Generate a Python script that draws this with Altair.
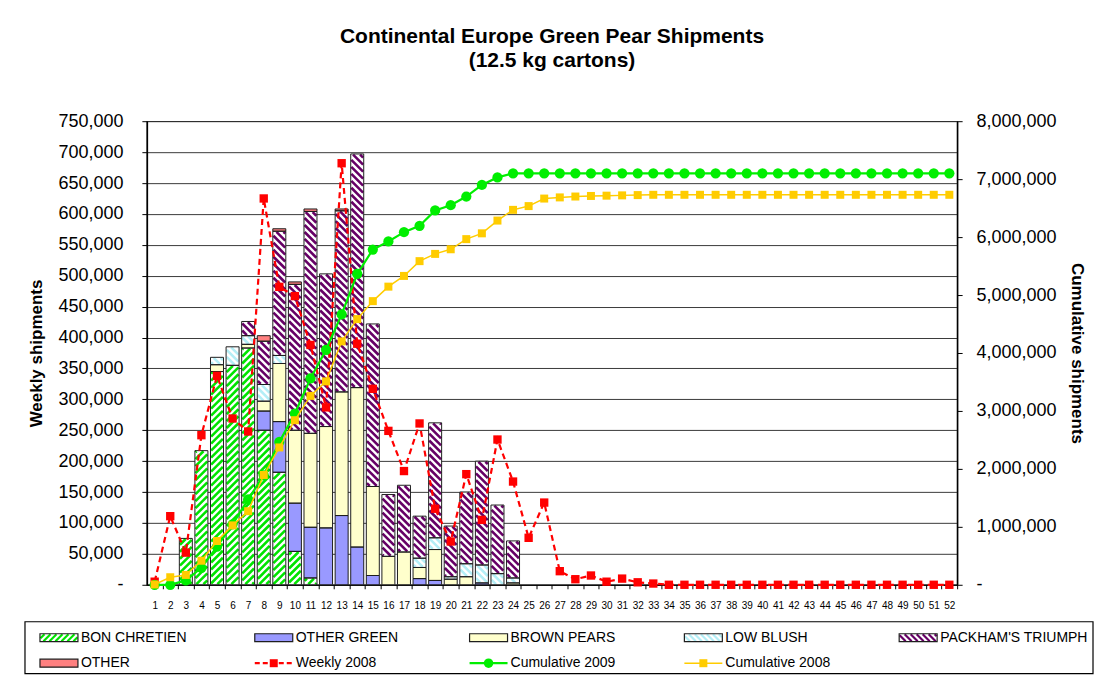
import math
import altair as alt
import pandas as pd

# ---------------- data ----------------
weeks = list(range(1, 53))

bon_chretien = [
    0, 0, 75000, 217000, 345000, 355000, 383000, 250000, 182000, 54000,
    11000, 0, 0, 0, 0, 0, 0, 0, 0, 0,
    0, 0, 0, 0, 0, 0, 0, 0, 0, 0,
    0, 0, 0, 0, 0, 0, 0, 0, 0, 0,
    0, 0, 0, 0, 0, 0, 0, 0, 0, 0,
    0, 0]
other_green = [
    0, 0, 0, 0, 0, 0, 0, 31000, 82000, 78000,
    82000, 92000, 112000, 61000, 15000, 0, 0, 10000, 7000, 0,
    0, 3000, 0, 0, 0, 0, 0, 0, 0, 0,
    0, 0, 0, 0, 0, 0, 0, 0, 0, 0,
    0, 0, 0, 0, 0, 0, 0, 0, 0, 0,
    0, 0]
brown_pears = [
    0, 0, 0, 0, 11000, 0, 6000, 16000, 94000, 118000,
    152000, 164000, 200000, 258000, 144000, 46000, 53000, 18000, 50000, 9000,
    13000, 0, 0, 3000, 0, 0, 0, 0, 0, 0,
    0, 0, 0, 0, 0, 0, 0, 0, 0, 0,
    0, 0, 0, 0, 0, 0, 0, 0, 0, 0,
    0, 0]
low_blush = [
    0, 0, 0, 0, 12000, 30000, 14000, 27000, 13000, 0,
    0, 0, 0, 0, 0, 0, 0, 15000, 19000, 4000,
    21000, 29000, 18000, 8000, 0, 0, 0, 0, 0, 0,
    0, 0, 0, 0, 0, 0, 0, 0, 0, 0,
    0, 0, 0, 0, 0, 0, 0, 0, 0, 0,
    0, 0]
packhams = [
    0, 0, 0, 0, 0, 0, 23000, 70000, 201000, 236000,
    359000, 247000, 293000, 378000, 263000, 100000, 108000, 68000, 186000, 82000,
    116000, 168000, 111000, 60000, 0, 0, 0, 0, 0, 0,
    0, 0, 0, 0, 0, 0, 0, 0, 0, 0,
    0, 0, 0, 0, 0, 0, 0, 0, 0, 0,
    0, 0]
other = [
    0, 0, 0, 0, 0, 0, 0, 9000, 4000, 4000,
    4000, 0, 3000, 0, 0, 0, 0, 0, 0, 0,
    0, 0, 0, 0, 0, 0, 0, 0, 0, 0,
    0, 0, 0, 0, 0, 0, 0, 0, 0, 0,
    0, 0, 0, 0, 0, 0, 0, 0, 0, 0,
    0, 0]
weekly_2008 = [
    5000, 111000, 52000, 242000, 338000, 269000, 248000, 625000, 482000, 467000,
    388000, 287000, 682000, 390000, 317000, 249000, 184000, 261000, 123000, 70000,
    179000, 105000, 235000, 167000, 76000, 133000, 22000, 9000, 15000, 5000,
    10000, 4000, 2000, 0, 0, 0, 0, 0, 0, 0,
    0, 0, 0, 0, 0, 0, 0, 0, 0, 0,
    0, 0]
cumulative_2009 = [
    0, 0, 75000, 292000, 659000, 1044000, 1475000, 1890000, 2465000, 2955000,
    3560000, 4055000, 4665000, 5365000, 5785000, 5925000, 6085000, 6195000, 6460000, 6550000,
    6700000, 6900000, 7030000, 7100000, 7100000, 7100000, 7100000, 7100000, 7100000, 7100000,
    7100000, 7100000, 7100000, 7100000, 7100000, 7100000, 7100000, 7100000, 7100000, 7100000,
    7100000, 7100000, 7100000, 7100000, 7100000, 7100000, 7100000, 7100000, 7100000, 7100000,
    7100000, 7100000]
cumulative_2008 = [
    5000, 130000, 170000, 415000, 755000, 1025000, 1270000, 1895000, 2370000, 2840000,
    3260000, 3510000, 4200000, 4585000, 4895000, 5145000, 5330000, 5585000, 5710000, 5790000,
    5965000, 6065000, 6285000, 6470000, 6535000, 6665000, 6685000, 6700000, 6710000, 6715000,
    6720000, 6725000, 6730000, 6730000, 6730000, 6730000, 6730000, 6730000, 6730000, 6730000,
    6730000, 6730000, 6730000, 6730000, 6730000, 6730000, 6730000, 6730000, 6730000, 6730000,
    6730000, 6730000]

varieties = ["BON CHRETIEN", "OTHER GREEN", "BROWN PEARS", "LOW BLUSH",
             "PACKHAM'S TRIUMPH", "OTHER"]
variety_series = [bon_chretien, other_green, brown_pears, low_blush, packhams, other]

legend_names = ["BON CHRETIEN", "OTHER GREEN", "BROWN PEARS", "LOW BLUSH",
                "PACKHAM'S TRIUMPH", "OTHER", "Weekly 2008", "Cumulative 2009",
                "Cumulative 2008"]
legend_cols = [0, 1, 2, 3, 4, 0, 1, 2, 3]
legend_rows = [0, 0, 0, 0, 0, 1, 1, 1, 1]

# ---------------- styles ----------------
FONT = "Liberation Sans, Arial, Helvetica, sans-serif"
fill_colors = ["#ffffff", "#9999ff", "#ffffcc", "#ffffff", "#ffffff", "#ff8080"]
hatch = {"BON CHRETIEN": (1, "#00e400"),
         "LOW BLUSH": (-1, "#b4eef6"),
         "PACKHAM'S TRIUMPH": (-1, "#660066")}
hatched = list(hatch.keys())
hatch_colors = [hatch[k][1] for k in hatched]
SPACING = 7.0
STRIPE_W = 2.6

PLOT_W, PLOT_H = 811, 464
PXW = PLOT_W / 52.0            # pixels per week
UPP = 750000.0 / PLOT_H        # units per pixel (left axis)
BAR_PX = 13.0

# page geometry of the plot area and the legend box
PLOT_LEFT, PLOT_TOP = 146.0, 121.0
LEG_X0, LEG_X1, LEG_Y0, LEG_Y1 = 24.0, 1093.0, 622.0, 674.0
COL0, COLW = 39.0, 215.0
ROW0, ROWH = 638.0, 25.5
SW, SH = 38.0, 8.0


def stripe_segments(x0, x1, y0, y1, d, s, inset=0.6):
    """Diagonal hatch lines (pixel space, y up) clipped to a rectangle."""
    x0 += inset; x1 -= inset; y0 += inset; y1 -= inset
    if x1 <= x0 or y1 <= y0:
        return []
    cs = [y - d * x for x in (x0, x1) for y in (y0, y1)]
    segs = []
    for k in range(math.floor(min(cs) / s), math.ceil(max(cs) / s) + 1):
        c = k * s
        if d > 0:
            xa, xb = max(x0, y0 - c), min(x1, y1 - c)
            if xb - xa > 0.05:
                segs.append((xa, xa + c, xb, xb + c))
        else:
            xa, xb = max(x0, c - y1), min(x1, c - y0)
            if xb - xa > 0.05:
                segs.append((xa, c - xa, xb, c - xb))
    return segs


# ---------------- tables ----------------
bar_rows = []
for i, w in enumerate(weeks):
    base = 0
    for v, s in zip(varieties, variety_series):
        val = s[i]
        if val > 0:
            bar_rows.append(dict(week=w, variety=v, y0=base, y1=base + val))
            base += val
df_bars = pd.DataFrame(bar_rows)
half = (BAR_PX / 2) / PXW
df_bars["x0"] = df_bars["week"] - half
df_bars["x1"] = df_bars["week"] + half

stripe_rows = []
for r in bar_rows:
    if r["variety"] not in hatch:
        continue
    d = hatch[r["variety"]][0]
    xc = (r["week"] - 0.5) * PXW
    for xa, ya, xb, yb in stripe_segments(xc - BAR_PX / 2, xc + BAR_PX / 2,
                                          r["y0"] / UPP, r["y1"] / UPP, d, SPACING):
        stripe_rows.append(dict(variety=r["variety"],
                                xs=0.5 + xa / PXW, xe=0.5 + xb / PXW,
                                ys=ya * UPP, ye=yb * UPP))
df_stripes = pd.DataFrame(stripe_rows)

df_lines = pd.DataFrame(dict(week=weeks, weekly=weekly_2008,
                             cum09=cumulative_2009, cum08=cumulative_2008))

# ---------------- scales / axes ----------------
x_scale = alt.Scale(domain=[0.5, 52.5], nice=False, zero=False)
y_scale = alt.Scale(domain=[0, 750000], nice=False)
y2_scale = alt.Scale(domain=[0, 8000000], nice=False)

x_axis = alt.Axis(values=weeks, format="d", title=None, labelFontSize=10,
                  labelColor="black", labelPadding=12, labelFlush=False,
                  labelOverlap=False, tickSize=4, tickColor="black",
                  tickOffset=PXW / 2, labelOffset=-PXW / 2,
                  domainColor="black", grid=False)
y_axis = alt.Axis(values=list(range(0, 750001, 50000)),
                  labelExpr="datum.value == 0 ? '-\u00a0\u00a0' : format(datum.value, ',')",
                  title="Weekly shipments", titleFontSize=17, titleFontWeight="bold",
                  titleColor="black", titlePadding=12, labelFontSize=18,
                  labelColor="black", labelPadding=19, tickSize=5, tickColor="black",
                  domainColor="black", domainWidth=1.5, grid=True, gridColor="#3a3a3a",
                  gridWidth=1)
y2_axis = alt.Axis(orient="right", values=list(range(0, 8000001, 1000000)),
                   labelExpr="datum.value == 0 ? '\u00a0\u00a0-' : format(datum.value, ',')",
                   title="Cumulative shipments", titleFontSize=17, titleFontWeight="bold",
                   titleColor="black", titlePadding=11, labelFontSize=18,
                   labelColor="black", labelPadding=14, tickSize=5, tickColor="black",
                   domainColor="black", domainWidth=1.5, grid=False)

YT = "Weekly shipments"
Y2T = "Cumulative shipments"


def X(field):
    return alt.X(field, scale=x_scale, axis=x_axis, title=None)


def Y(field):
    return alt.Y(field, scale=y_scale, axis=y_axis, title=YT)


def Y2R(field):
    return alt.Y(field, scale=y2_scale, axis=y2_axis, title=Y2T)


# ---------------- main chart ----------------
bars_fill = alt.Chart(df_bars).mark_rect(strokeWidth=0).encode(
    x=X("x0:Q"), x2="x1:Q", y=Y("y0:Q"), y2="y1:Q",
    fill=alt.Fill("variety:N", scale=alt.Scale(domain=varieties, range=fill_colors),
                  legend=None),
)
bars_hatch = alt.Chart(df_stripes).mark_rule(strokeWidth=STRIPE_W, strokeCap="butt").encode(
    x=X("xs:Q"), x2="xe:Q", y=Y("ys:Q"), y2="ye:Q",
    stroke=alt.Stroke("variety:N", scale=alt.Scale(domain=hatched, range=hatch_colors),
                      legend=None),
)
bars_outline = alt.Chart(df_bars).mark_rect(fillOpacity=0, stroke="#1e1e1e",
                                            strokeWidth=1).encode(
    x=X("x0:Q"), x2="x1:Q", y=Y("y0:Q"), y2="y1:Q",
)
weekly_line = alt.Chart(df_lines).mark_line(color="#ff0000", strokeWidth=2.2,
                                            strokeDash=[6, 4]).encode(
    x=X("week:Q"), y=Y("weekly:Q"),
)
weekly_pts = alt.Chart(df_lines).mark_point(shape="square", filled=True, size=70,
                                            color="#ff0000", opacity=1).encode(
    x=X("week:Q"), y=Y("weekly:Q"),
)
left = alt.layer(bars_fill, bars_hatch, bars_outline, weekly_line, weekly_pts)

cum09_line = alt.Chart(df_lines).mark_line(color="#00ee00", strokeWidth=2.2).encode(
    x=X("week:Q"), y=Y2R("cum09:Q"),
)
cum09_pts = alt.Chart(df_lines).mark_point(shape="circle", filled=True, size=105,
                                           color="#00ee00", opacity=1).encode(
    x=X("week:Q"), y=Y2R("cum09:Q"),
)
cum08_line = alt.Chart(df_lines).mark_line(color="#ffcc00", strokeWidth=1.5).encode(
    x=X("week:Q"), y=Y2R("cum08:Q"),
)
cum08_pts = alt.Chart(df_lines).mark_point(shape="square", filled=True, size=64,
                                           color="#ffcc00", opacity=1).encode(
    x=X("week:Q"), y=Y2R("cum08:Q"),
)
right = alt.layer(cum09_line, cum09_pts, cum08_line, cum08_pts)

main = alt.layer(left, right).resolve_scale(y="independent")

# ---------------- legend (own scales: columns / rows of the legend) ----------------
df_leg = pd.DataFrame(dict(name=legend_names, col=legend_cols, row=legend_rows))
df_leg["sx0"] = df_leg["col"]
df_leg["sx1"] = df_leg["col"] + SW / COLW
df_leg["sxm"] = df_leg["col"] + SW / (2 * COLW)
df_leg["tx"] = df_leg["col"] + (SW + 3) / COLW
df_leg["ry"] = -df_leg["row"]
df_leg["ry0"] = -df_leg["row"] - SH / 2 / ROWH
df_leg["ry1"] = -df_leg["row"] + SH / 2 / ROWH
df_leg_bars = df_leg[df_leg["name"].isin(varieties)]


def to_col(px):      # page x -> legend column units
    return (px - COL0) / COLW


def to_row(py):      # page y -> legend row units (row 0 = 0, row 1 = -1)
    return -(py - ROW0) / ROWH


df_box = pd.DataFrame(dict(bx0=[to_col(LEG_X0)], bx1=[to_col(LEG_X1)],
                           by0=[to_row(LEG_Y1)], by1=[to_row(LEG_Y0)]))

leg_stripes = []
for _, r in df_leg_bars.iterrows():
    if r["name"] not in hatch:
        continue
    x0 = COL0 + r["col"] * COLW
    yc = -(ROW0 + r["row"] * ROWH)          # page y flipped (y up)
    for xa, ya, xb, yb in stripe_segments(x0, x0 + SW, yc - SH / 2, yc + SH / 2,
                                          hatch[r["name"]][0], 6.0, inset=0.5):
        leg_stripes.append(dict(name=r["name"],
                                xs=to_col(xa), xe=to_col(xb),
                                ys=to_row(-ya), ye=to_row(-yb)))
df_leg_stripes = pd.DataFrame(leg_stripes)

lx = alt.Scale(domain=[to_col(PLOT_LEFT), to_col(PLOT_LEFT + PLOT_W)], nice=False, zero=False)
ly = alt.Scale(domain=[to_row(PLOT_TOP + PLOT_H), to_row(PLOT_TOP)], nice=False, zero=False)


def LX(field):
    return alt.X(field, scale=lx, axis=None)


def LY(field):
    return alt.Y(field, scale=ly, axis=None)


leg_box = alt.Chart(df_box).mark_rect(fillOpacity=0, stroke="black", strokeWidth=1.2).encode(
    x=LX("bx0:Q"), x2="bx1:Q", y=LY("by0:Q"), y2="by1:Q",
)
leg_fill = alt.Chart(df_leg_bars).mark_rect(strokeWidth=0).encode(
    x=LX("sx0:Q"), x2="sx1:Q", y=LY("ry0:Q"), y2="ry1:Q",
    fill=alt.Fill("name:N", scale=alt.Scale(domain=varieties, range=fill_colors),
                  legend=None),
)
leg_hatch = alt.Chart(df_leg_stripes).mark_rule(strokeWidth=2.2, strokeCap="butt").encode(
    x=LX("xs:Q"), x2="xe:Q", y=LY("ys:Q"), y2="ye:Q",
    stroke=alt.Stroke("name:N", scale=alt.Scale(domain=hatched, range=hatch_colors),
                      legend=None),
)
leg_outline = alt.Chart(df_leg_bars).mark_rect(fillOpacity=0, stroke="#1e1e1e",
                                               strokeWidth=1.2).encode(
    x=LX("sx0:Q"), x2="sx1:Q", y=LY("ry0:Q"), y2="ry1:Q",
)


def legend_line(name, color, width, dash, shape, size):
    base = alt.Chart(df_leg).transform_filter(alt.datum.name == name)
    ln = base.mark_rule(color=color, strokeWidth=width, strokeDash=dash).encode(
        x=LX("sx0:Q"), x2="sx1:Q", y=LY("ry:Q"),
    )
    pt = base.mark_point(shape=shape, filled=True, size=size, color=color,
                         opacity=1).encode(
        x=LX("sxm:Q"), y=LY("ry:Q"),
    )
    return [ln, pt]


leg_text = alt.Chart(df_leg).mark_text(align="left", baseline="middle", fontSize=14,
                                       color="black", font=FONT).encode(
    x=LX("tx:Q"), y=LY("ry:Q"), text="name:N",
)

legend_layer = alt.layer(
    leg_box, leg_fill, leg_hatch, leg_outline,
    *legend_line("Weekly 2008", "#ff0000", 2.2, [5, 3], "square", 64),
    *legend_line("Cumulative 2009", "#00ee00", 2.2, [1, 0], "circle", 90),
    *legend_line("Cumulative 2008", "#ffcc00", 1.5, [1, 0], "square", 64),
    leg_text,
)

chart = alt.layer(main, legend_layer).resolve_scale(
    x="independent", y="independent", fill="independent", stroke="independent"
).properties(
    width=PLOT_W, height=PLOT_H,
    title=alt.TitleParams(
        text=["Continental Europe Green Pear Shipments", "(12.5 kg cartons)"],
        fontSize=21, fontWeight="bold", color="black", anchor="middle",
        frame="group", lineHeight=24, offset=41),
    padding={"left": 16, "top": 18, "right": 2, "bottom": 0},
).configure(font=FONT).configure_view(stroke="black", strokeWidth=1.2)

chart.save("out.html", embed_options={"renderer": "svg", "actions": False})
